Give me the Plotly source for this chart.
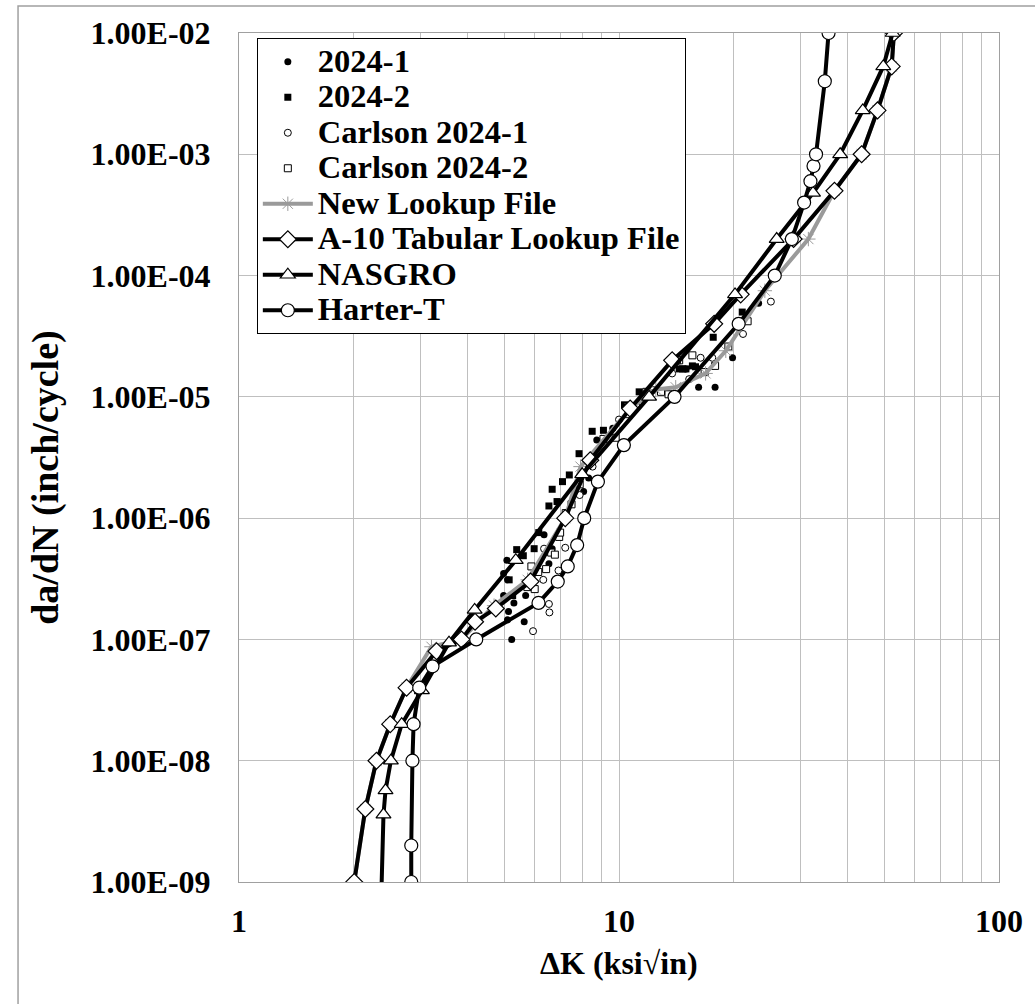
import plotly.graph_objects as go

# ---------------- data ----------------
# 2024-1 test data (small filled dots)
k_2024_1 = [5.22, 5.63, 5.09, 5.07, 4.97, 4.97, 5.29, 5.12, 5.68, 5.09, 5.81, 6.35, 6.67, 6.54,
            8.32, 8.07, 8.74, 9.63, 16.2, 17.9, 15.0, 19.9, 23.3]
y_2024_1 = [1.0e-7, 1.4e-7, 1.45e-7, 4.5e-7, 3.5e-7, 2.3e-7, 2.0e-7, 1.7e-7, 2.3e-7, 3.1e-7, 3.1e-7,
            7.3e-7, 5.6e-7, 4.2e-7, 2.14e-6, 1.66e-6, 4.4e-6, 5.5e-6, 1.2e-5, 1.2e-5, 1.7e-5, 2.1e-5, 5.9e-5]

# 2024-2 test data (small filled squares)
k_2024_2 = [8.5, 9.1, 7.85, 7.4, 7.1, 6.67, 6.54, 6.87, 6.15, 5.98, 5.38, 5.6, 5.14, 5.25,
            11.3, 10.34, 14.7, 15.6, 21.1, 17.7, 15.9, 15.0, 14.4]
y_2024_2 = [5.2e-6, 5.3e-6, 3.4e-6, 2.27e-6, 2.0e-6, 1.73e-6, 1.26e-6, 1.37e-6, 7.6e-7, 5.6e-7, 5.5e-7,
            4.9e-7, 3.1e-7, 2.3e-7, 1.1e-5, 8.6e-6, 1.7e-5, 1.8e-5, 5.0e-5, 3.1e-5, 1.77e-5, 1.7e-5, 1.7e-5]

# Carlson 2024-1 (small open circles)
k_c2024_1 = [5.94, 6.56, 6.54, 6.32, 6.93, 7.22, 6.35, 7.88, 8.52, 10.0, 11.1, 12.3, 13.8, 15.3,
             16.4, 17.6, 21.2, 25.1]
y_c2024_1 = [1.17e-7, 1.67e-7, 1.96e-7, 3.1e-7, 3.7e-7, 5.7e-7, 5.6e-7, 1.55e-6, 2.66e-6, 6.5e-6,
             8.6e-6, 1.14e-5, 1.56e-5, 1.4e-5, 2.1e-5, 2.1e-5, 3.3e-5, 6.1e-5]

# Carlson 2024-2 (small open squares)
k_c2024_2 = [6.0, 5.74, 6.13, 5.88, 6.43, 6.63, 6.78, 6.96, 7.0, 7.24, 7.5, 7.88, 8.36, 9.1, 9.8,
             10.6, 11.8, 12.9, 13.5, 14.4, 15.6, 16.8, 17.9, 19.4, 21.8, 14.2]
y_c2024_2 = [2.6e-7, 2.7e-7, 3.6e-7, 4.0e-7, 3.8e-7, 5.2e-7, 5.0e-7, 7.0e-7, 7.6e-7, 1.1e-6, 1.3e-6,
             1.9e-6, 3.0e-6, 4.5e-6, 4.6e-6, 7.2e-6, 1.1e-5, 1.1e-5, 1.05e-5, 2.0e-5, 2.2e-5, 1.6e-5,
             1.8e-5, 2.6e-5, 4.2e-5, 2.0e-5]

# New Lookup File (grey line, asterisks)
k_new = [2.01, 2.15, 2.30, 2.50, 2.76, 3.21, 3.85, 4.69, 5.75, 7.22, 7.92, 10.7, 12.5, 14.1,
         16.9, 19.1, 24.2, 31.5, 36.9, 43.5, 47.9, 52.2, 52.9]
y_new = [1e-9, 4e-9, 1e-8, 2e-8, 4e-8, 8.7e-8, 1e-7, 1.9e-7, 3.1e-7, 1e-6, 2.66e-6, 8e-6, 1.15e-5,
         1.2e-5, 1.56e-5, 2.4e-5, 7.5e-5, 2e-4, 5e-4, 1e-3, 2.3e-3, 5.3e-3, 1e-2]

# A-10 Tabular Lookup File (diamonds)
k_a10 = [2.01, 2.15, 2.30, 2.50, 2.76, 3.31, 3.85, 4.18, 4.74, 5.85, 7.22, 8.4, 10.7, 13.8, 17.8,
         20.9, 28.8, 36.9, 43.5, 47.9, 52.2, 52.9]
y_a10 = [1e-9, 4e-9, 1e-8, 2e-8, 4e-8, 8e-8, 1e-7, 1.4e-7, 1.8e-7, 3e-7, 1e-6, 3e-6, 8e-6, 2e-5,
         4e-5, 7e-5, 2e-4, 5e-4, 1e-3, 2.3e-3, 5.3e-3, 1e-2]

# NASGRO (triangles)
k_nasgro = [2.36, 2.40, 2.43, 2.51, 2.68, 3.03, 3.57, 4.17, 5.35, 8.0, 12.0, 20.2, 26.0, 32.4,
            38.2, 43.8, 49.6, 52.5]
y_nasgro = [5e-10, 3.6e-9, 5.7e-9, 1e-8, 2e-8, 3.8e-8, 9.4e-8, 1.75e-7, 4.5e-7, 2.3e-6, 1.0e-5,
            7e-5, 2e-4, 4.8e-4, 1e-3, 2.3e-3, 5.3e-3, 1e-2]

# Harter-T (circles)
k_harter = [2.84, 2.84, 2.86, 2.88, 2.98, 3.23, 4.21, 6.14, 6.9, 7.33, 7.76, 8.1, 8.8, 10.3, 14.0,
            20.65, 25.7, 28.5, 30.7, 31.9, 32.5, 33.0, 34.8, 35.6]
y_harter = [1e-9, 2e-9, 1e-8, 2e-8, 4e-8, 6e-8, 1e-7, 2e-7, 3e-7, 4e-7, 6e-7, 1e-6, 2e-6, 4e-6, 1e-5,
            4e-5, 1e-4, 2e-4, 4e-4, 6e-4, 8e-4, 1e-3, 4e-3, 1e-2]

# axis ticks
x_tickvals = [1, 2, 3, 4, 5, 6, 7, 8, 9, 10, 20, 30, 40, 50, 60, 70, 80, 90, 100]
x_ticktext = ["1", "", "", "", "", "", "", "", "", "10", "", "", "", "", "", "", "", "", "100"]
y_tickvals = [1e-9, 1e-8, 1e-7, 1e-6, 1e-5, 1e-4, 1e-3, 1e-2]
y_ticktext = ["1.00E-09", "1.00E-08", "1.00E-07", "1.00E-06", "1.00E-05", "1.00E-04",
              "1.00E-03", "1.00E-02"]

FONT = "Liberation Serif"


def nm(s):
    return '<span style="font-size:32.5px">' + s + '</span>'


fig = go.Figure()

fig.add_trace(go.Scatter(x=k_2024_1, y=y_2024_1, mode="markers", name=nm("2024-1"),
                         marker=dict(symbol="circle", size=7, color="black")))
fig.add_trace(go.Scatter(x=k_2024_2, y=y_2024_2, mode="markers", name=nm("2024-2"),
                         marker=dict(symbol="square", size=7, color="black")))
fig.add_trace(go.Scatter(x=k_c2024_1, y=y_c2024_1, mode="markers", name=nm("Carlson 2024-1"),
                         marker=dict(symbol="circle", size=7, color="white",
                                     line=dict(color="black", width=1))))
fig.add_trace(go.Scatter(x=k_c2024_2, y=y_c2024_2, mode="markers", name=nm("Carlson 2024-2"),
                         marker=dict(symbol="square", size=7, color="white",
                                     line=dict(color="black", width=1))))
fig.add_trace(go.Scatter(x=k_new, y=y_new, mode="lines+markers", name=nm("New Lookup File"),
                         line=dict(color="#9a9a9a", width=4),
                         marker=dict(symbol="asterisk-open", size=12,
                                     line=dict(color="black", width=1))))
fig.add_trace(go.Scatter(x=k_a10, y=y_a10, mode="lines+markers", name=nm("A-10 Tabular Lookup File"),
                         line=dict(color="black", width=4),
                         marker=dict(symbol="diamond", size=13, color="white",
                                     line=dict(color="black", width=1.2))))
fig.add_trace(go.Scatter(x=k_nasgro, y=y_nasgro, mode="lines+markers", name=nm("NASGRO"),
                         line=dict(color="black", width=4),
                         marker=dict(symbol="triangle-up", size=13, color="white",
                                     line=dict(color="black", width=1.2))))
fig.add_trace(go.Scatter(x=k_harter, y=y_harter, mode="lines+markers", name=nm("Harter-T"),
                         line=dict(color="black", width=4),
                         marker=dict(symbol="circle", size=13, color="white",
                                     line=dict(color="black", width=1.2))))

fig.update_xaxes(type="log", range=[0, 2], tickvals=x_tickvals, ticktext=x_ticktext,
                 showgrid=True, gridcolor="#bfbfbf", gridwidth=1,
                 showline=True, mirror=True, linecolor="#a0a0a0", linewidth=1,
                 ticks="", ticklabelstandoff=11, zeroline=False,
                 tickfont=dict(family=FONT, size=32, color="black", weight="bold"))
fig.update_yaxes(type="log", range=[-9, -2], tickvals=y_tickvals, ticktext=y_ticktext,
                 showgrid=True, gridcolor="#bfbfbf", gridwidth=1,
                 showline=True, mirror=True, linecolor="#a0a0a0", linewidth=1,
                 ticks="", ticklabelstandoff=21, zeroline=False,
                 tickfont=dict(family=FONT, size=32, color="black", weight="bold"))

L, R, T, B = 239, 29, 33, 122
W, H = 1035, 1004
pw, ph = W - L - R, H - T - B


def px(x):
    return (x - L) / pw


def py(y):
    return (H - B - y) / ph


fig.update_layout(
    width=W, height=H,
    margin=dict(l=L, r=R, t=T, b=B, pad=0),
    paper_bgcolor="white", plot_bgcolor="white",
    showlegend=True,
    legend=dict(x=px(257), y=py(38), xanchor="left", yanchor="top",
                bgcolor="white", bordercolor="black", borderwidth=1,
                font=dict(family=FONT, size=25, color="black", weight="bold"),
                itemwidth=50, tracegroupgap=0),
    shapes=[dict(type="rect", xref="paper", yref="paper",
                 x0=px(16), y0=py(6), x1=px(1100), y1=py(1100),
                 line=dict(color="#a0a0a0", width=1.5), fillcolor="rgba(0,0,0,0)", layer="below")],
    annotations=[
        dict(text="<b>da/dN (inch/cycle)</b>", xref="paper", yref="paper",
             x=px(44), y=py(478), xanchor="center", yanchor="middle", textangle=-90,
             showarrow=False, font=dict(family=FONT, size=38, color="black")),
        dict(text="<b>ΔK (ksi√in)</b>", xref="paper", yref="paper",
             x=px(623), y=py(963), xanchor="center", yanchor="middle",
             showarrow=False, font=dict(family=FONT, size=32, color="black")),
    ],
)

fig.write_html("out.html")
